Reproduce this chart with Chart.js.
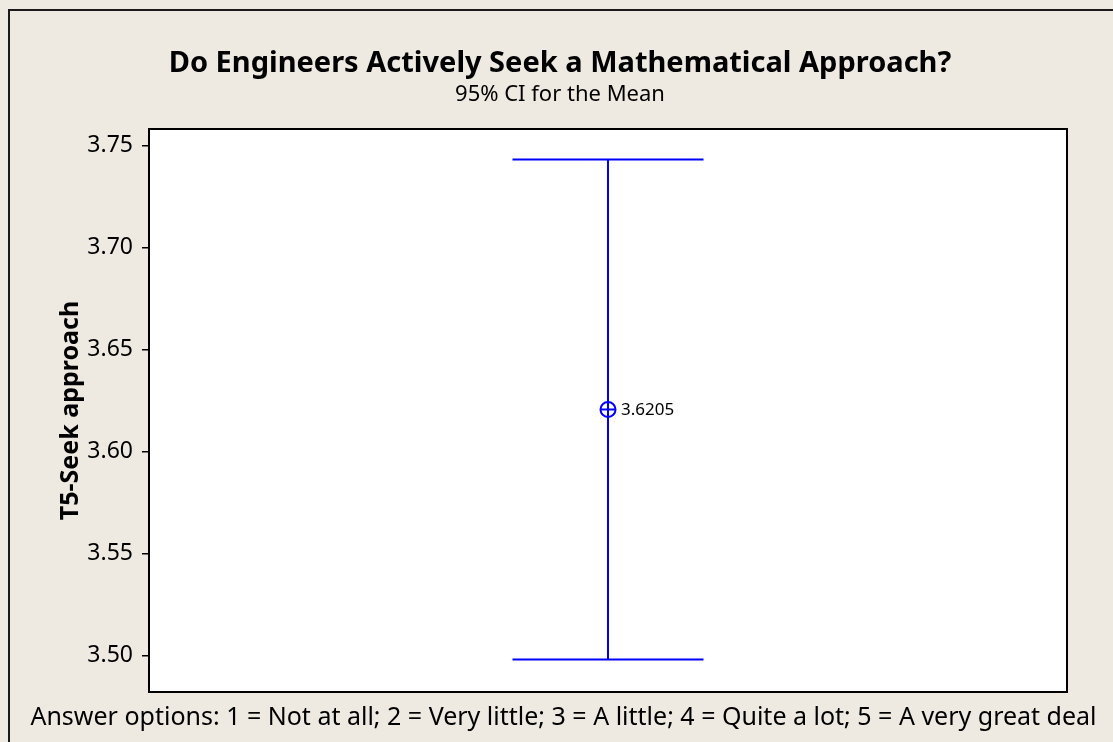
<!DOCTYPE html>
<html>
<head>
<meta charset="utf-8">
<script src="https://cdn.jsdelivr.net/npm/chart.js@4/dist/chart.umd.min.js"></script>
<style>
  html, body { margin: 0; padding: 0; background: #EEEAE1; }
  #wrap { width: 1113px; height: 742px; position: relative; }
  canvas { display: block; }
</style>
</head>
<body>
<div id="wrap"><canvas id="c" width="1113" height="742"></canvas></div>
<script>
// Chart text
const titleText = 'Do Engineers Actively Seek a Mathematical Approach?';
const subtitleText = '95% CI for the Mean';
const yAxisTitle = 'T5-Seek approach';
const footnoteText = 'Answer options: 1 = Not at all; 2 = Very little; 3 = A little; 4 = Quite a lot; 5 = A very great deal';

// Y axis tick labels
const yTickValues = [3.50, 3.55, 3.60, 3.65, 3.70, 3.75];

// Interval plot: mean and 95% confidence bounds
const meanValues = [3.6205];
const ciLower = [3.4979];
const ciUpper = [3.7431];

const FONT = '"Noto Sans", "Open Sans", sans-serif';
const BLUE = '#0000FF';
const BG = '#EEEAE1';

const intervalPlugin = {
  id: 'intervalPlot',
  beforeDraw(chart) {
    const { ctx, chartArea: a } = chart;
    ctx.save();
    ctx.fillStyle = BG;
    ctx.fillRect(0, 0, chart.width, chart.height);
    // outer frame (runs off the right and bottom edges)
    ctx.strokeStyle = '#1a1a1a';
    ctx.lineWidth = 2;
    ctx.strokeRect(9, 10, chart.width + 20, chart.height + 20);
    ctx.fillStyle = '#FFFFFF';
    ctx.fillRect(a.left, a.top, a.right - a.left, a.bottom - a.top);
    ctx.restore();
  },
  beforeDatasetsDraw(chart) {
    const { ctx } = chart;
    const xs = chart.scales.x, ys = chart.scales.y;
    const capHalf = 95.5;
    ctx.save();
    ctx.strokeStyle = BLUE;
    ctx.lineWidth = 2;
    meanValues.forEach((m, i) => {
      const x = xs.getPixelForValue(i);
      const yHi = ys.getPixelForValue(ciUpper[i]);
      const yLo = ys.getPixelForValue(ciLower[i]);
      ctx.beginPath();
      ctx.moveTo(x, yHi); ctx.lineTo(x, yLo);
      ctx.moveTo(x - capHalf, yHi); ctx.lineTo(x + capHalf, yHi);
      ctx.moveTo(x - capHalf, yLo); ctx.lineTo(x + capHalf, yLo);
      ctx.stroke();
    });
    ctx.restore();
  },
  afterDatasetsDraw(chart) {
    const { ctx } = chart;
    const xs = chart.scales.x, ys = chart.scales.y;
    ctx.save();
    meanValues.forEach((m, i) => {
      const x = xs.getPixelForValue(i);
      const y = ys.getPixelForValue(m);
      // horizontal bar through the mean symbol
      ctx.strokeStyle = BLUE;
      ctx.lineWidth = 2;
      ctx.beginPath();
      ctx.moveTo(x - 8, y); ctx.lineTo(x + 8, y);
      ctx.stroke();
      ctx.fillStyle = '#000';
      ctx.font = '17px ' + FONT;
      ctx.textAlign = 'left';
      ctx.textBaseline = 'middle';
      ctx.fillText(m.toFixed(4), x + 13, y + 1);
    });
    ctx.restore();
  },
  afterDraw(chart) {
    const { ctx, chartArea: a } = chart;
    ctx.save();
    // plot frame
    ctx.strokeStyle = '#000';
    ctx.lineWidth = 2;
    ctx.strokeRect(a.left, a.top, a.right - a.left, a.bottom - a.top);

    ctx.fillStyle = '#000';
    ctx.textAlign = 'center';
    ctx.textBaseline = 'alphabetic';
    ctx.font = 'bold 29px ' + FONT;
    ctx.fillText(titleText, 560, 72);
    ctx.font = '22px ' + FONT;
    ctx.fillText(subtitleText, 560, 101);
    ctx.font = '25px ' + FONT;
    ctx.fillText(footnoteText, 563.5, 725);

    ctx.translate(78, (a.top + a.bottom) / 2);
    ctx.rotate(-Math.PI / 2);
    ctx.font = 'bold 25px ' + FONT;
    ctx.fillText(yAxisTitle, 0, 0);
    ctx.restore();
  }
};

new Chart(document.getElementById('c'), {
  type: 'scatter',
  data: {
    datasets: [{
      data: meanValues.map((v, i) => ({ x: i, y: v })),
      pointStyle: 'circle',
      pointRadius: 7.5,
      pointBorderWidth: 2,
      pointBorderColor: BLUE,
      pointBackgroundColor: 'rgba(0,0,0,0)',
      pointHoverRadius: 7.5
    }]
  },
  options: {
    responsive: false,
    animation: false,
    events: [],
    layout: { padding: { left: 0, top: 129, right: 46, bottom: 50 } },
    plugins: { legend: { display: false }, tooltip: { enabled: false }, title: { display: false } },
    scales: {
      x: { type: 'linear', min: -1, max: 1, display: false },
      y: {
        type: 'linear',
        min: 3.482,
        max: 3.758,
        afterFit(scale) { scale.width = 149; },
        afterBuildTicks(scale) { scale.ticks = yTickValues.map(v => ({ value: v })); },
        ticks: {
          callback: v => Number(v).toFixed(2),
          font: { family: FONT, size: 23 },
          color: '#000',
          padding: 9
        },
        grid: { drawOnChartArea: false, drawTicks: true, tickLength: 7, color: '#000', lineWidth: 1.5 },
        border: { display: false }
      }
    }
  },
  plugins: [intervalPlugin]
});
</script>
</body>
</html>
